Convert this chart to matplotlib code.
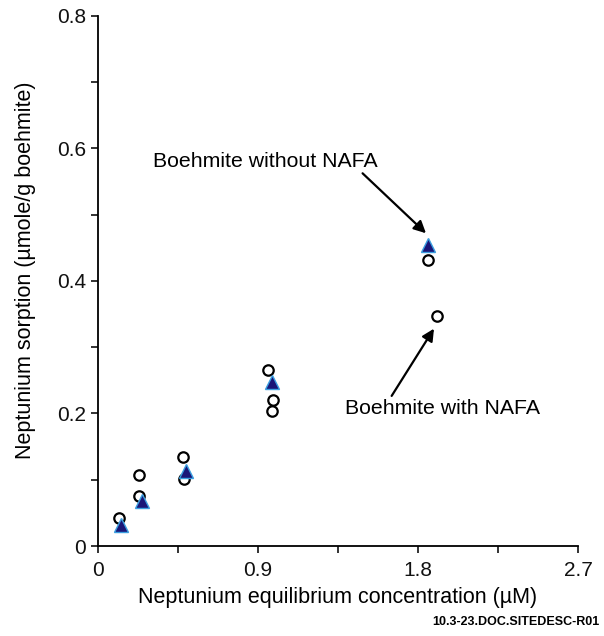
import numpy as np
import matplotlib.pyplot as plt
from matplotlib.ticker import MultipleLocator, FuncFormatter

plt.rcParams['font.family'] = ['Liberation Sans', 'DejaVu Sans']

# boehmite without NAFA (triangles)
x_without = [0.13, 0.25, 0.495, 0.98, 1.856]
y_without = [0.032, 0.068, 0.113, 0.248, 0.454]

# boehmite with NAFA (open circles)
x_with = [0.12, 0.23, 0.23, 0.48, 0.485, 0.956, 0.985, 0.98, 1.856, 1.907]
y_with = [0.042, 0.107, 0.075, 0.134, 0.101, 0.266, 0.220, 0.204, 0.432, 0.347]

x_ticks = [0, 0.9, 1.8, 2.7]
y_ticks = [0, 0.2, 0.4, 0.6, 0.8]

fig = plt.figure(figsize=(6.04, 6.36), dpi=100)
ax = fig.add_axes([0.162, 0.1415, 0.795, 0.8335])

ax.plot(x_with, y_with, 'o', ms=7.5, mfc='none', mec='black', mew=1.6, zorder=3)
ax.plot(x_without, y_without, '^', ms=10, mfc='#1a1678', mec='#3a9ee0', mew=1.0, zorder=4)

ax.set_xlim(0, 2.7)
ax.set_ylim(0, 0.8)
ax.set_xticks(x_ticks)
ax.set_yticks(y_ticks)
ax.xaxis.set_minor_locator(MultipleLocator(0.45))
ax.yaxis.set_minor_locator(MultipleLocator(0.1))
fmt = FuncFormatter(lambda v, p: '0' if v == 0 else f'{v:g}')
ax.xaxis.set_major_formatter(fmt)
ax.yaxis.set_major_formatter(fmt)

for s in ['top', 'right']:
    ax.spines[s].set_visible(False)
for s in ['left', 'bottom']:
    ax.spines[s].set_linewidth(1.3)
ax.tick_params(which='both', direction='out', length=5, width=1.2, labelsize=15, colors='#111111')
ax.tick_params(axis='x', pad=6)

ax.set_xlabel('Neptunium equilibrium concentration (\u00b5M)', fontsize=15.5, labelpad=5)
ax.set_ylabel('Neptunium sorption (\u00b5mole/g boehmite)', fontsize=15.5, labelpad=16)
ax.yaxis.set_label_coords(-0.128, 0.52)

ax.annotate('Boehmite without NAFA', xy=(1.845, 0.472), xytext=(0.31, 0.581),
            fontsize=15.3, ha='left', va='center',
            arrowprops=dict(arrowstyle='-|>', color='black', lw=1.6,
                            mutation_scale=18, shrinkA=0, shrinkB=0,
                            relpos=(0.92, 0.0)))
ax.annotate('Boehmite with NAFA', xy=(1.89, 0.328), xytext=(1.39, 0.208),
            fontsize=15.3, ha='left', va='center',
            arrowprops=dict(arrowstyle='-|>', color='black', lw=1.6,
                            mutation_scale=18, shrinkA=0, shrinkB=0,
                            relpos=(0.23, 1.0)))

fig.text(0.993, 0.012, '10.3-23.DOC.SITEDESC-R01', fontsize=9, fontweight='bold',
         ha='right', va='bottom')

fig.savefig('out.png', dpi=100)
